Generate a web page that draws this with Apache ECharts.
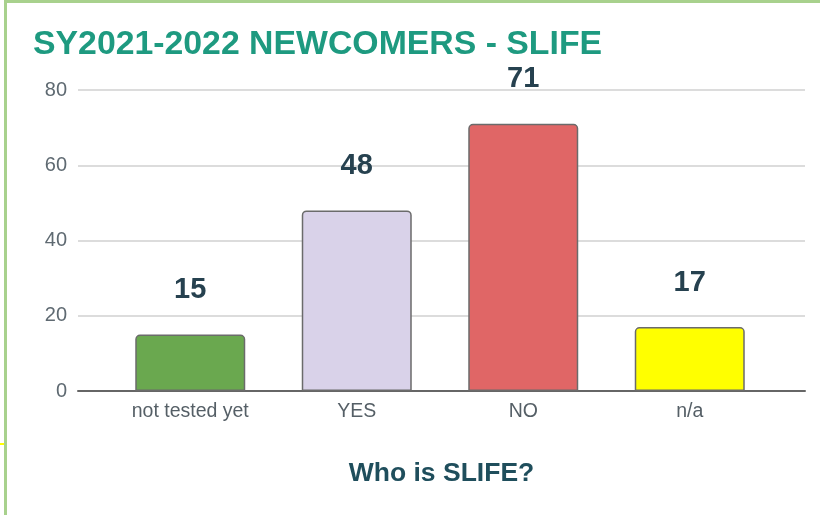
<!DOCTYPE html>
<html>
<head>
<meta charset="utf-8">
<script src="https://cdn.jsdelivr.net/npm/echarts@6/dist/echarts.min.js"></script>
<style>
html,body{margin:0;padding:0;background:#fff;}
#chart{position:absolute;left:0;top:0;width:820px;height:515px;}
</style>
</head>
<body>
<div id="chart"></div>
<script>
const titleText = 'SY2021-2022 NEWCOMERS - SLIFE';
const axisTitle = 'Who is SLIFE?';
const categories = ['not tested yet', 'YES', 'NO', 'n/a'];
const values = [15, 48, 71, 17];
const barColors = ['#6aa84f', '#d9d2e9', '#e06666', '#ffff00'];
const yTicks = [0, 20, 40, 60, 80];

const chart = echarts.init(document.getElementById('chart'), null, {renderer: 'canvas'});
const font = 'Liberation Sans, Arial, sans-serif';
chart.setOption({
  backgroundColor: '#ffffff',
  animation: false,
  title: {
    text: titleText,
    left: 28, top: 23,
    textStyle: {fontFamily: font, fontWeight: 'bold', fontSize: 33.8, color: '#1e9a80'}
  },
  graphic: [
    {type: 'rect', shape: {x: 4, y: 0, width: 816, height: 3}, style: {fill: '#a8d18d'}, silent: true},
    {type: 'rect', shape: {x: 4, y: 0, width: 3, height: 515}, style: {fill: '#a8d18d'}, silent: true},
    {type: 'rect', shape: {x: 0, y: 443, width: 4, height: 2}, style: {fill: '#ffff00'}, silent: true}
  ],
  grid: [
    {left: 78, right: 15, top: 90, bottom: 124},
    {left: 107, right: 47, top: 90, bottom: 124}
  ],
  xAxis: [
    {
      gridIndex: 0, type: 'category', data: categories,
      axisLine: {show: true, lineStyle: {color: '#666666', width: 2}},
      axisTick: {show: false}, axisLabel: {show: false},
      name: axisTitle, nameLocation: 'middle', nameGap: 69,
      nameTextStyle: {fontFamily: font, fontWeight: 'bold', fontSize: 26.5, color: '#1f4e5c'}
    },
    {
      gridIndex: 1, type: 'category', data: categories,
      axisLine: {show: false}, axisTick: {show: false},
      axisLabel: {fontFamily: font, fontSize: 19.5, color: '#555f66', margin: 11}
    }
  ],
  yAxis: [
    {
      gridIndex: 0, type: 'value', min: 0, max: 80, interval: 20,
      axisLine: {show: false}, axisTick: {show: false},
      axisLabel: {fontFamily: font, fontSize: 20, color: '#5f6a72', margin: 11},
      splitLine: {lineStyle: {color: '#dcdcdc', width: 2}}
    },
    {
      gridIndex: 1, type: 'value', min: 0, max: 80, interval: 20,
      show: false, splitLine: {show: false}
    }
  ],
  series: [{
    type: 'bar', xAxisIndex: 1, yAxisIndex: 1,
    barWidth: 110,
    data: values.map((v, i) => ({value: v, itemStyle: {color: barColors[i]}})),
    itemStyle: {borderColor: '#6b6b6b', borderWidth: 1.5, borderRadius: [4, 4, 0, 0]},
    label: {
      show: true, position: 'top', distance: 30,
      fontFamily: font, fontWeight: 'bold', fontSize: 29, color: '#26414f'
    }
  }]
});
</script>
</body>
</html>
